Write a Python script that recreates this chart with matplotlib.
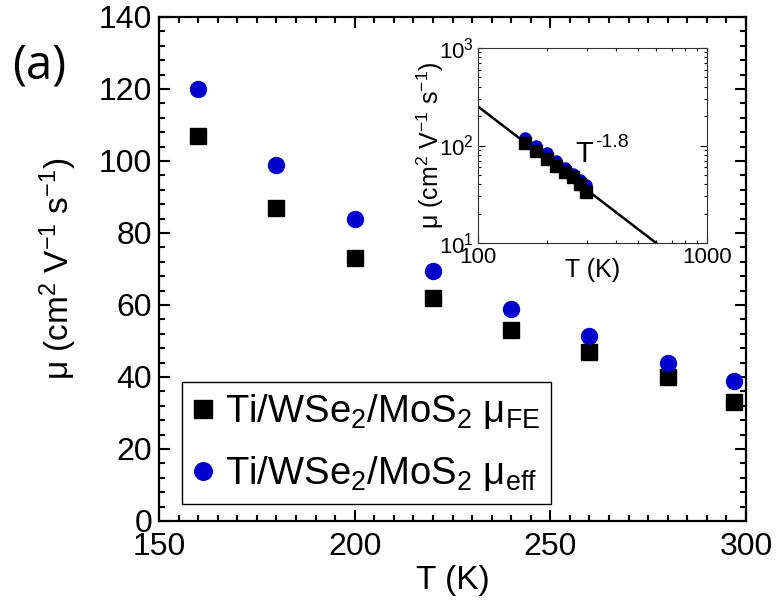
import numpy as np
import matplotlib
matplotlib.use("Agg")
import matplotlib.pyplot as plt
from matplotlib.ticker import MultipleLocator, LogLocator, NullFormatter, FixedLocator, FixedFormatter

plt.rcParams['font.family'] = ['Liberation Sans', 'DejaVu Sans']
plt.rcParams['mathtext.fontset'] = 'custom'
plt.rcParams['mathtext.rm'] = 'Liberation Sans'
plt.rcParams['mathtext.it'] = 'Liberation Sans'
plt.rcParams['mathtext.bf'] = 'Liberation Sans:bold'

# Temperature-dependent mobility data
temperature = [160, 180, 200, 220, 240, 260, 280, 297]
mu_fe = [107, 87, 73, 62, 53, 47, 40, 33]
mu_eff = [120, 99, 84, 69.5, 59, 51.5, 44, 39]

# Power-law fit mu = A * T^n
fit_prefactor = 1.0e6
fit_exponent = -1.8
fit_T_range = [100, 600]

label_fe = "Ti/WSe$_2$/MoS$_2$ μ$_{FE}$"
label_eff = "Ti/WSe$_2$/MoS$_2$ μ$_{eff}$"
blue = '#0000cc'

fig = plt.figure(figsize=(7.76, 6.07), dpi=100)
ax = fig.add_axes([159/776, 1 - 521/607, 587/776, 504/607])

ax.plot(temperature, mu_fe, 's', color='black', markersize=12.2, label=label_fe, linestyle='none')
ax.plot(temperature, mu_eff, 'o', color=blue, markersize=11.5, label=label_eff, linestyle='none')

ax.set_xlim(150, 300)
ax.set_ylim(0, 140)
ax.xaxis.set_major_locator(MultipleLocator(50))
ax.xaxis.set_minor_locator(MultipleLocator(5))
ax.yaxis.set_major_locator(MultipleLocator(20))
ax.yaxis.set_minor_locator(MultipleLocator(4))
ax.tick_params(which='both', direction='in', top=True, right=True, width=1.5, labelsize=23)
ax.tick_params(axis='x', pad=8)
ax.tick_params(axis='y', pad=5)
ax.tick_params(which='major', length=8)
ax.tick_params(which='minor', length=4.5)
for s in ax.spines.values():
    s.set_linewidth(1.6)

ax.set_xlabel("T (K)", fontsize=24, labelpad=2)
ax.set_ylabel("μ (cm$^2$ V$^{-1}$ s$^{-1}$)", fontsize=24, labelpad=14)

leg = ax.legend(loc='lower left', bbox_to_anchor=(0.039, 0.034), borderaxespad=0,
                fontsize=27.5, frameon=True, fancybox=False, framealpha=1,
                edgecolor='black', handlelength=0.55, handletextpad=0.3,
                borderpad=0.28, labelspacing=0.6, numpoints=1, markerscale=1.1)
leg.get_frame().set_linewidth(1.0)

fig.text(12/776, 1 - 66/607, "(a)", fontsize=34, family=['Open Sans', 'DejaVu Sans'],
         va='center', ha='left')

# Inset: log-log view with power-law fit
axi = fig.add_axes([478/776, 1 - 243/607, 229/776, 195/607])
fit_T = np.array(fit_T_range, dtype=float)
axi.plot(fit_T, fit_prefactor * fit_T ** fit_exponent, color='black', linewidth=1.8)
axi.plot(temperature, mu_eff, 'o', color=blue, markersize=8, linestyle='none')
axi.plot(temperature, mu_fe, 's', color='black', markersize=8.6, linestyle='none')
axi.set_xscale('log')
axi.set_yscale('log')
axi.set_xlim(100, 1000)
axi.set_ylim(10, 1000)
axi.xaxis.set_major_locator(FixedLocator([100, 1000]))
axi.xaxis.set_major_formatter(FixedFormatter(['100', '1000']))
axi.xaxis.set_minor_locator(LogLocator(base=10, subs=np.arange(2, 10)))
axi.xaxis.set_minor_formatter(NullFormatter())
axi.yaxis.set_major_locator(FixedLocator([10, 100, 1000]))
axi.yaxis.set_major_formatter(FixedFormatter(['10$^1$', '10$^2$', '10$^3$']))
axi.yaxis.set_minor_locator(LogLocator(base=10, subs=np.arange(2, 10)))
axi.yaxis.set_minor_formatter(NullFormatter())
axi.tick_params(which='both', direction='in', top=True, right=True, width=0.8, labelsize=16, pad=3)
axi.tick_params(which='major', length=5)
axi.tick_params(which='minor', length=2.5)
for s in axi.spines.values():
    s.set_linewidth(0.8)
    s.set_edgecolor('#333333')
axi.set_xlabel("T (K)", fontsize=18, labelpad=-7)
axi.set_ylabel("μ (cm$^2$ V$^{-1}$ s$^{-1}$)", fontsize=18)
axi.yaxis.set_label_coords(-0.14, 0.5)
axi.text(265, 68, "T", fontsize=21, ha='left', va='baseline')
axi.text(325, 97, "-1.8", fontsize=14, ha='left', va='baseline')

fig.savefig("out.png", dpi=100)
